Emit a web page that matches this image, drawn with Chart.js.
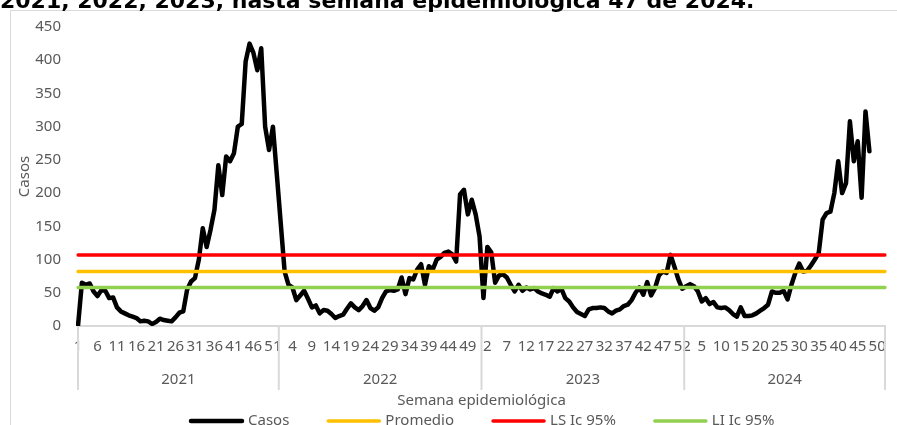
<!DOCTYPE html>
<html>
<head>
<meta charset="utf-8">
<script src="https://cdn.jsdelivr.net/npm/chart.js@4.4.1/dist/chart.umd.min.js"></script>
<style>
  html, body { margin: 0; padding: 0; background: #fff; overflow: hidden; }
</style>
</head>
<body>
<canvas id="chart" width="897" height="425"></canvas>
<script>
// years on the lower axis level, weeks per year on the upper level
var years = ['2021', '2022', '2023', '2024'];
var weeksPerYear = [52, 52, 52, 52];

// weekly cases
var casos2021 = [0, 65, 62, 64, 52, 45, 54, 53, 42, 43,
                 28, 22, 19, 16, 14, 12, 7, 8, 7, 3,
                 6, 11, 9, 8, 7, 13, 20, 22, 55, 67,
                 72, 100, 147, 119, 145, 175, 242, 197, 255, 248,
                 260, 300, 304, 398, 425, 411, 385, 418, 300, 265,
                 300, 228];
var casos2022 = [155, 82, 62, 58, 39, 46, 53, 41, 28, 31,
                 19, 24, 23, 18, 12, 15, 17, 26, 34, 28,
                 24, 30, 39, 27, 23, 28, 42, 52, 54, 53,
                 55, 73, 48, 72, 70, 85, 93, 62, 90, 85,
                 100, 104, 110, 112, 108, 97, 198, 205, 168, 190,
                 168, 135];
var casos2023 = [42, 119, 111, 65, 76, 78, 73, 62, 52, 62,
                 53, 58, 55, 57, 52, 49, 47, 44, 57, 52,
                 56, 42, 37, 28, 21, 18, 15, 25, 27, 27,
                 28, 27, 22, 19, 23, 25, 30, 32, 39, 50,
                 58, 47, 66, 46, 57, 76, 82, 80, 107, 89,
                 70, 56];
var casos2024 = [60, 63, 60, 52, 37, 42, 33, 36, 28, 27,
                 28, 24, 18, 14, 28, 15, 15, 16, 19, 23,
                 27, 32, 52, 50, 50, 53, 40, 62, 80, 94,
                 82, 83, 91, 100, 110, 160, 170, 172, 200, 248,
                 200, 215, 308, 248, 278, 193, 323, 263];

// reference levels
var promedio = 82;
var lsIc95 = 107;
var liIc95 = 58;

var yTicks = [0, 50, 100, 150, 200, 250, 300, 350, 400, 450];

// build the category list and the series
var weekLabels = [];
var yearStart = [];
weeksPerYear.forEach(function(n) {
  yearStart.push(weekLabels.length);
  for (var w = 1; w <= n; w++) weekLabels.push(String(w));
});
var casos = casos2021.concat(casos2022, casos2023, casos2024);
while (casos.length < weekLabels.length) casos.push(null);

var FONT = '"Noto Sans", sans-serif';
var GREY = '#595959';

var excelExtras = {
  id: 'excelExtras',
  beforeDraw: function(chart) {
    var ctx = chart.ctx;
    ctx.save();
    ctx.strokeStyle = '#d9d9d9';
    ctx.lineWidth = 1;
    ctx.strokeRect(10.5, 10.5, 1000, 1000);
    ctx.restore();
  },
  afterDraw: function(chart) {
    var ctx = chart.ctx;
    var xs = chart.scales.x;
    var area = chart.chartArea;
    ctx.save();

    // title, top part cut off
    ctx.fillStyle = '#000';
    ctx.font = 'bold 22px "DejaVu Sans"';
    ctx.textAlign = 'left';
    ctx.textBaseline = 'alphabetic';
    ctx.fillText('2021, 2022, 2023, hasta semana epidemiológica 47 de 2024.', 0, 8);

    // year separators
    var bounds = [area.left];
    for (var k = 1; k < yearStart.length; k++) {
      bounds.push((xs.getPixelForValue(yearStart[k] - 1) + xs.getPixelForValue(yearStart[k])) / 2);
    }
    bounds.push(area.right);
    ctx.strokeStyle = '#d9d9d9';
    ctx.lineWidth = 2;
    bounds.forEach(function(bx) {
      ctx.beginPath();
      ctx.moveTo(bx, area.bottom);
      ctx.lineTo(bx, 390);
      ctx.stroke();
    });

    // year labels
    ctx.fillStyle = GREY;
    ctx.font = '15px ' + FONT;
    ctx.textAlign = 'center';
    ctx.textBaseline = 'middle';
    years.forEach(function(y, i) {
      ctx.fillText(y, (bounds[i] + bounds[i + 1]) / 2, 380);
    });

    // axis titles
    ctx.fillText('Semana epidemiológica', (area.left + area.right) / 2, 401);
    ctx.save();
    ctx.translate(25, (area.top + area.bottom) / 2);
    ctx.rotate(-Math.PI / 2);
    ctx.fillText('Casos', 0, 0);
    ctx.restore();

    // legend
    var items = chart.data.datasets.map(function(d) { return [d.label, d.borderColor, d.borderWidth]; });
    var lx = 191, ly = 421;
    ctx.textAlign = 'left';
    items.forEach(function(it) {
      ctx.strokeStyle = it[1];
      ctx.lineWidth = it[2];
      ctx.lineCap = 'round';
      ctx.beginPath();
      ctx.moveTo(lx, ly);
      ctx.lineTo(lx + 51, ly);
      ctx.stroke();
      ctx.fillText(it[0], lx + 57, ly);
      lx += 57 + ctx.measureText(it[0]).width + 39;
    });
    ctx.restore();
  }
};

var ctx = document.getElementById('chart').getContext('2d');
var myChart = new Chart(ctx, {
  type: 'line',
  data: {
    labels: weekLabels,
    datasets: [
      { label: 'Casos', data: casos, borderColor: '#000000', borderWidth: 4.5, order: 10 },
      { label: 'Promedio', data: weekLabels.map(function() { return promedio; }), borderColor: '#FFC000', borderWidth: 3.5, order: 2 },
      { label: 'LS Ic 95%', data: weekLabels.map(function() { return lsIc95; }), borderColor: '#FF0000', borderWidth: 3.5, order: 1 },
      { label: 'LI Ic 95%', data: weekLabels.map(function() { return liIc95; }), borderColor: '#92D050', borderWidth: 3.5, order: 0 }
    ]
  },
  options: {
    responsive: false,
    animation: false,
    devicePixelRatio: 1,
    layout: { padding: { top: 27, right: 11, left: 0, bottom: 0 } },
    elements: {
      point: { radius: 0 },
      line: { tension: 0, borderJoinStyle: 'round', borderCapStyle: 'round', fill: false }
    },
    plugins: { legend: { display: false }, tooltip: { enabled: false } },
    scales: {
      x: {
        type: 'category',
        offset: false,
        grid: { display: false, drawTicks: false },
        border: { display: true, color: '#d9d9d9', width: 2 },
        ticks: {
          autoSkip: false, maxRotation: 0, minRotation: 0, padding: 12,
          color: GREY, font: { family: FONT, size: 15 },
          callback: function(v, i) { return i % 5 === 0 ? weekLabels[i] : ''; }
        },
        afterFit: function(s) { s.height = 99; }
      },
      y: {
        min: 0, max: 450,
        grid: { display: false, drawTicks: false },
        border: { display: false },
        afterBuildTicks: function(s) { s.ticks = yTicks.map(function(v) { return { value: v }; }); },
        ticks: { padding: 17, color: GREY, font: { family: FONT, size: 15 } },
        afterFit: function(s) { s.width = 78; }
      }
    }
  },
  plugins: [excelExtras]
});
</script>
</body>
</html>
